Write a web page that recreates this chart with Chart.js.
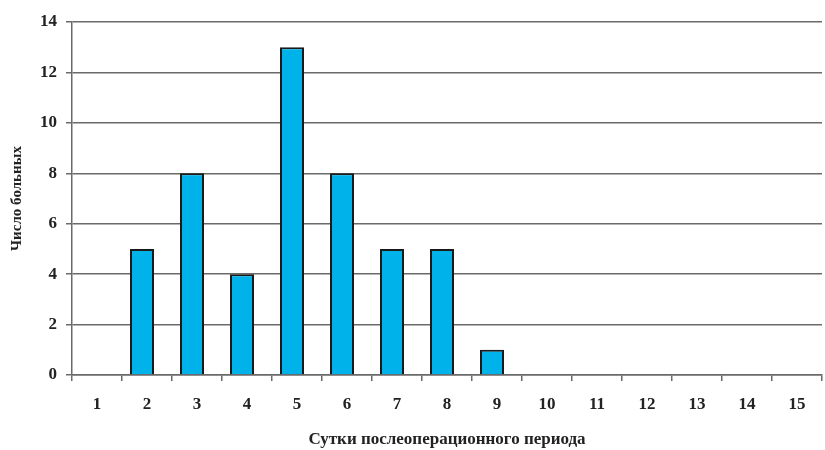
<!DOCTYPE html>
<html><head><meta charset="utf-8">
<script src="https://cdn.jsdelivr.net/npm/chart.js@4/dist/chart.umd.min.js"></script>
<style>html,body{margin:0;padding:0;background:#fff}#wrap{width:825px;height:450px}</style>
</head><body><div id="wrap"><canvas id="c"></canvas></div>
<script>
const categories = ['1','2','3','4','5','6','7','8','9','10','11','12','13','14','15'];
const patients = [0,5,8,4,13,8,5,5,1,0,0,0,0,0,0];
const yTicks = [0,2,4,6,8,10,12,14];
const xTitle = 'Сутки послеоперационного периода';
const yTitle = 'Число больных';

const FONT = '"Liberation Serif", "Times New Roman", serif';

// bars in the reference sit slightly left of the category centre
const shiftBars = {
  id: 'shiftBars',
  afterDatasetsUpdate(chart) {
    const xs = chart.scales.x;
    const step = xs.width / categories.length;
    chart.getDatasetMeta(0).data.forEach(el => { el.x -= step * 0.1; });
  }
};

new Chart(document.getElementById('c'), {
  type: 'bar',
  data: { labels: categories, datasets: [{
    data: patients, backgroundColor: '#00B2EA', borderColor: '#1a1a1a', borderWidth: 2,
    categoryPercentage: 0.96, barPercentage: 0.5
  }]},
  plugins: [shiftBars],
  options: {
    responsive: true, maintainAspectRatio: false, animation: false,
    layout: { padding: { left: 0, top: 22, right: 3, bottom: 0 } },
    plugins: { legend: { display: false }, tooltip: { enabled: false } },
    scales: {
      x: {
        grid: { offset: true, drawOnChartArea: false, drawTicks: true, tickLength: 6, color: '#6a6a6a', lineWidth: 1.5 },
        border: { color: '#6a6a6a', width: 1.5 },
        ticks: { color: '#222', font: { family: FONT, size: 17, weight: 'bold' }, padding: 13, maxRotation: 0 },
        title: { display: true, text: xTitle, color: '#222', font: { family: FONT, size: 17, weight: 'bold' }, padding: { top: 0, bottom: 0 } },
        afterFit: s => { s.height = 75; }
      },
      y: {
        min: 0, max: 14,
        afterBuildTicks: s => { s.ticks = yTicks.map(v => ({ value: v })); },
        grid: { color: '#6a6a6a', lineWidth: 1.5, tickLength: 6, drawTicks: true },
        border: { color: '#6a6a6a', width: 1.5 },
        ticks: { color: '#222', font: { family: FONT, size: 17, weight: 'bold' }, padding: 9 },
        title: { display: true, text: yTitle, color: '#222', font: { family: FONT, size: 15, weight: 'bold' }, padding: { top: 8, bottom: 0 } },
        afterFit: s => { s.width = 72; }
      }
    }
  }
});
</script></body></html>
